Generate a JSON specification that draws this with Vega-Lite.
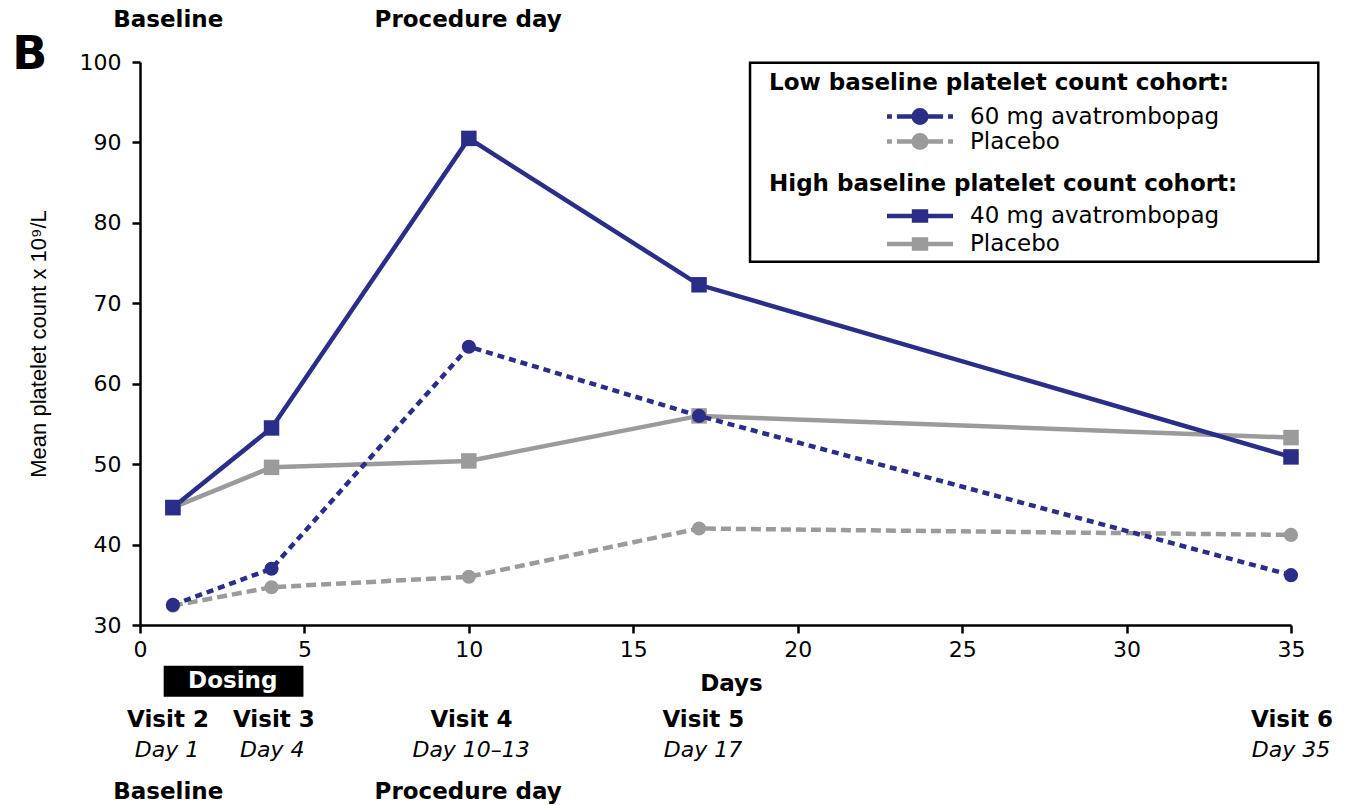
{
  "$schema": "https://vega.github.io/schema/vega-lite/v6.json",
  "width": 1151,
  "height": 563,
  "autosize": {"type": "none"},
  "padding": {"left": 140, "top": 62, "right": 55, "bottom": 180},
  "background": "white",
  "config": {
    "view": {"stroke": null},
    "font": "DejaVu Sans",
    "axis": {
      "grid": false,
      "domainColor": "black",
      "domainWidth": 2.5,
      "tickColor": "black",
      "tickWidth": 2.5,
      "tickSize": 8,
      "labelFont": "DejaVu Sans",
      "labelFontSize": 22,
      "labelColor": "black",
      "labelFlush": false,
      "labelOverlap": false,
      "titleColor": "black"
    }
  },
  "datasets": {
    "counts": [
      {"cohort": "High", "treatment": "Placebo", "day": 1, "count": 44.6},
      {"cohort": "High", "treatment": "Placebo", "day": 4, "count": 49.6},
      {"cohort": "High", "treatment": "Placebo", "day": 10, "count": 50.4},
      {"cohort": "High", "treatment": "Placebo", "day": 17, "count": 56.0},
      {"cohort": "High", "treatment": "Placebo", "day": 35, "count": 53.3},
      {"cohort": "High", "treatment": "40 mg avatrombopag", "day": 1, "count": 44.6},
      {"cohort": "High", "treatment": "40 mg avatrombopag", "day": 4, "count": 54.5},
      {"cohort": "High", "treatment": "40 mg avatrombopag", "day": 10, "count": 90.5},
      {"cohort": "High", "treatment": "40 mg avatrombopag", "day": 17, "count": 72.3},
      {"cohort": "High", "treatment": "40 mg avatrombopag", "day": 35, "count": 50.9},
      {"cohort": "Low", "treatment": "Placebo", "day": 1, "count": 32.4},
      {"cohort": "Low", "treatment": "Placebo", "day": 4, "count": 34.7},
      {"cohort": "Low", "treatment": "Placebo", "day": 10, "count": 36.0},
      {"cohort": "Low", "treatment": "Placebo", "day": 17, "count": 42.0},
      {"cohort": "Low", "treatment": "Placebo", "day": 35, "count": 41.2},
      {"cohort": "Low", "treatment": "60 mg avatrombopag", "day": 1, "count": 32.5},
      {"cohort": "Low", "treatment": "60 mg avatrombopag", "day": 4, "count": 37.0},
      {"cohort": "Low", "treatment": "60 mg avatrombopag", "day": 10, "count": 64.6},
      {"cohort": "Low", "treatment": "60 mg avatrombopag", "day": 17, "count": 56.0},
      {"cohort": "Low", "treatment": "60 mg avatrombopag", "day": 35, "count": 36.2}
    ],
    "visits": [
      {"visit": "Visit 2", "visit_x": 0.85, "day_label": "Day 1", "day_x": 0.82},
      {"visit": "Visit 3", "visit_x": 4.07, "day_label": "Day 4", "day_x": 4.02},
      {"visit": "Visit 4", "visit_x": 10.08, "day_label": "Day 10–13", "day_x": 10.07},
      {"visit": "Visit 5", "visit_x": 17.13, "day_label": "Day 17", "day_x": 17.12},
      {"visit": "Visit 6", "visit_x": 35.03, "day_label": "Day 35", "day_x": 35.0}
    ],
    "phases": [
      {"phase": "Baseline", "phase_x": 0.86},
      {"phase": "Procedure day", "phase_x": 9.98}
    ]
  },
  "layer": [
    {
      "data": {"values": [{}]},
      "mark": {"type": "rect", "fill": "white", "stroke": "black", "strokeWidth": 2.5},
      "encoding": {
        "x": {"datum": 18.55, "type": "quantitative", "scale": {"domain": [0, 35], "nice": false}},
        "x2": {"datum": 35.83},
        "y": {"datum": 99.9, "type": "quantitative", "scale": {"domain": [30, 100], "nice": false, "zero": false}},
        "y2": {"datum": 75.15}
      }
    },
    {
      "data": {"name": "counts"},
      "transform": [{"filter": "datum.cohort == 'High'"}],
      "encoding": {
        "x": {
          "field": "day", "type": "quantitative",
          "scale": {"domain": [0, 35], "nice": false},
          "axis": {
            "values": [0, 5, 10, 15, 20, 25, 30, 35],
            "labelPadding": 6,
            "title": "Days",
            "titleFont": "DejaVu Sans",
            "titleFontSize": 23,
            "titleFontWeight": "bold",
            "titleX": 591,
            "titleY": 58,
            "titleBaseline": "middle"
          }
        },
        "y": {
          "field": "count", "type": "quantitative",
          "scale": {"domain": [30, 100], "nice": false, "zero": false},
          "axis": {
            "values": [30, 40, 50, 60, 70, 80, 90, 100],
            "labelPadding": 11,
            "title": "Mean platelet count x 10⁹/L",
            "titleFont": "Liberation Sans",
            "titleFontSize": 22,
            "titleFontWeight": "normal",
            "titleX": -102,
            "titleY": 281.5,
            "titleBaseline": "middle"
          }
        },
        "color": {
          "field": "treatment", "type": "nominal",
          "scale": {"domain": ["40 mg avatrombopag", "Placebo"], "range": ["#2b2e88", "#9b9b9b"]},
          "legend": {
            "title": "High baseline platelet count cohort:",
            "orient": "none",
            "legendX": 629,
            "legendY": 111,
            "padding": 0,
            "symbolType": "M-1,0H1M-0.18,-0.14H0.18V0.14H-0.18Z",
            "symbolSize": 4356,
            "symbolStrokeWidth": 4.5,
            "symbolOffset": 115.5,
            "labelOffset": 14.5,
            "clipHeight": 28,
            "rowPadding": 0,
            "titlePadding": 6,
            "labelFont": "DejaVu Sans",
            "labelFontSize": 23,
            "labelLimit": 400,
            "labelColor": "black",
            "titleFont": "DejaVu Sans",
            "titleFontSize": 23,
            "titleFontWeight": "bold",
            "titleColor": "black",
            "titleLimit": 700,
            "encode": {
              "symbols": {
                "update": {
                  "fill": {"signal": "datum.value == 'Placebo' ? '#9b9b9b' : '#2b2e88'"},
                  "stroke": {"signal": "datum.value == 'Placebo' ? '#9b9b9b' : '#2b2e88'"}
                }
              }
            }
          }
        }
      },
      "layer": [
        {"mark": {"type": "line", "strokeWidth": 4.5}},
        {"mark": {"type": "point", "shape": "square", "filled": true, "size": 240, "opacity": 1}}
      ]
    },
    {
      "data": {"name": "counts"},
      "transform": [{"filter": "datum.cohort == 'Low'"}],
      "encoding": {
        "x": {"field": "day", "type": "quantitative", "scale": {"domain": [0, 35], "nice": false}},
        "y": {"field": "count", "type": "quantitative", "scale": {"domain": [30, 100], "nice": false, "zero": false}},
        "color": {
          "field": "treatment", "type": "nominal",
          "scale": {"domain": ["60 mg avatrombopag", "Placebo"], "range": ["#2b2e88", "#9b9b9b"]},
          "legend": {
            "title": "Low baseline platelet count cohort:",
            "orient": "none",
            "legendX": 629,
            "legendY": 10,
            "padding": 0,
            "symbolType": "M-1,0H-0.85M-0.7,0H0.7M0.85,0H1M0.19,0A0.19,0.19,0,1,1,-0.19,0A0.19,0.19,0,1,1,0.19,0Z",
            "symbolSize": 4356,
            "symbolStrokeWidth": 4.5,
            "symbolOffset": 115.5,
            "labelOffset": 14.5,
            "clipHeight": 25,
            "rowPadding": 0,
            "titlePadding": 9,
            "labelFont": "DejaVu Sans",
            "labelFontSize": 23,
            "labelLimit": 400,
            "labelColor": "black",
            "titleFont": "DejaVu Sans",
            "titleFontSize": 23,
            "titleFontWeight": "bold",
            "titleColor": "black",
            "titleLimit": 700,
            "encode": {
              "symbols": {
                "update": {
                  "fill": {"signal": "datum.value == 'Placebo' ? '#9b9b9b' : '#2b2e88'"},
                  "stroke": {"signal": "datum.value == 'Placebo' ? '#9b9b9b' : '#2b2e88'"}
                }
              }
            }
          }
        }
      },
      "layer": [
        {
          "transform": [{"filter": "datum.treatment == 'Placebo'"}],
          "mark": {"type": "line", "strokeWidth": 4.5, "strokeDash": [10, 5]}
        },
        {
          "transform": [{"filter": "datum.treatment != 'Placebo'"}],
          "mark": {"type": "line", "strokeWidth": 4.5, "strokeDash": [7, 5]}
        },
        {"mark": {"type": "point", "shape": "circle", "filled": true, "size": 200, "opacity": 1}}
      ]
    },
    {
      "data": {"values": [{}]},
      "mark": {"type": "text", "text": "B", "font": "DejaVu Sans", "fontSize": 46, "fontWeight": "bold", "align": "center", "baseline": "middle", "color": "black"},
      "encoding": {
        "x": {"datum": -3.35, "type": "quantitative", "scale": {"domain": [0, 35], "nice": false}},
        "y": {"datum": 100.81, "type": "quantitative", "scale": {"domain": [30, 100], "nice": false, "zero": false}}
      }
    },
    {
      "data": {"name": "phases"},
      "mark": {"type": "text", "font": "DejaVu Sans", "fontSize": 23, "fontWeight": "bold", "align": "center", "baseline": "middle", "color": "black"},
      "encoding": {
        "x": {"field": "phase_x", "type": "quantitative", "scale": {"domain": [0, 35], "nice": false}},
        "y": {"datum": 105.22, "type": "quantitative", "scale": {"domain": [30, 100], "nice": false, "zero": false}},
        "text": {"field": "phase"}
      }
    },
    {
      "data": {"name": "phases"},
      "mark": {"type": "text", "font": "DejaVu Sans", "fontSize": 23, "fontWeight": "bold", "align": "center", "baseline": "middle", "color": "black"},
      "encoding": {
        "x": {"field": "phase_x", "type": "quantitative", "scale": {"domain": [0, 35], "nice": false}},
        "y": {"datum": 9.24, "type": "quantitative", "scale": {"domain": [30, 100], "nice": false, "zero": false}},
        "text": {"field": "phase"}
      }
    },
    {
      "data": {"name": "visits"},
      "mark": {"type": "text", "font": "DejaVu Sans", "fontSize": 23, "fontWeight": "bold", "align": "center", "baseline": "middle", "color": "black"},
      "encoding": {
        "x": {"field": "visit_x", "type": "quantitative", "scale": {"domain": [0, 35], "nice": false}},
        "y": {"datum": 18.19, "type": "quantitative", "scale": {"domain": [30, 100], "nice": false, "zero": false}},
        "text": {"field": "visit"}
      }
    },
    {
      "data": {"name": "visits"},
      "mark": {"type": "text", "font": "DejaVu Sans", "fontSize": 22, "fontStyle": "italic", "align": "center", "baseline": "middle", "color": "black"},
      "encoding": {
        "x": {"field": "day_x", "type": "quantitative", "scale": {"domain": [0, 35], "nice": false}},
        "y": {"datum": 14.46, "type": "quantitative", "scale": {"domain": [30, 100], "nice": false, "zero": false}},
        "text": {"field": "day_label"}
      }
    },
    {
      "data": {"values": [{}]},
      "mark": {"type": "rect", "fill": "black"},
      "encoding": {
        "x": {"datum": 0.72, "type": "quantitative", "scale": {"domain": [0, 35], "nice": false}},
        "x2": {"datum": 4.97},
        "y": {"datum": 24.94, "type": "quantitative", "scale": {"domain": [30, 100], "nice": false, "zero": false}},
        "y2": {"datum": 21.09}
      }
    },
    {
      "data": {"values": [{}]},
      "mark": {"type": "text", "text": "Dosing", "font": "DejaVu Sans", "fontSize": 23, "fontWeight": "bold", "align": "center", "baseline": "middle", "color": "white"},
      "encoding": {
        "x": {"datum": 2.82, "type": "quantitative", "scale": {"domain": [0, 35], "nice": false}},
        "y": {"datum": 23.04, "type": "quantitative", "scale": {"domain": [30, 100], "nice": false, "zero": false}}
      }
    }
  ],
  "resolve": {
    "scale": {"color": "independent"},
    "legend": {"color": "independent"}
  }
}
